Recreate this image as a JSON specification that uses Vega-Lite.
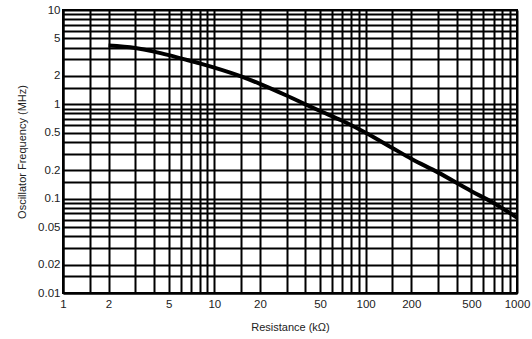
{
  "$schema": "https://vega.github.io/schema/vega-lite/v6.json",
  "autosize": {"type": "none"},
  "padding": {"left": 63, "top": 10, "right": 15, "bottom": 46},
  "width": 454,
  "height": 283,
  "background": "white",
  "config": {
    "view": {"stroke": "black", "strokeWidth": 2},
    "font": "Liberation Sans",
    "axis": {
      "gridColor": "black",
      "gridWidth": 2,
      "gridOpacity": 1,
      "domainColor": "black",
      "domainWidth": 2,
      "ticks": false,
      "labelFont": "Liberation Sans",
      "labelFontSize": 11.5,
      "labelColor": "#222",
      "titleFont": "Liberation Sans",
      "titleFontSize": 11,
      "titleFontWeight": "normal",
      "titleColor": "#222"
    }
  },
  "data": {
    "values": [
      {"r": 2, "f": 4.2},
      {"r": 3, "f": 3.95},
      {"r": 4, "f": 3.62},
      {"r": 5, "f": 3.32},
      {"r": 6, "f": 3.07},
      {"r": 8, "f": 2.72},
      {"r": 10, "f": 2.45},
      {"r": 15, "f": 1.98},
      {"r": 20, "f": 1.65},
      {"r": 30, "f": 1.24},
      {"r": 40, "f": 1.0},
      {"r": 50, "f": 0.85},
      {"r": 70, "f": 0.67},
      {"r": 100, "f": 0.5},
      {"r": 150, "f": 0.345},
      {"r": 200, "f": 0.265},
      {"r": 300, "f": 0.19},
      {"r": 500, "f": 0.12},
      {"r": 700, "f": 0.09},
      {"r": 1000, "f": 0.063}
    ]
  },
  "mark": {"type": "line", "color": "black", "strokeWidth": 4, "interpolate": "monotone", "clip": true},
  "encoding": {
    "x": {
      "field": "r",
      "type": "quantitative",
      "scale": {"type": "log", "domain": [1, 1000], "nice": false},
      "axis": {
        "title": "Resistance (kΩ)",
        "titlePadding": 12,
        "labelPadding": 5,
        "labelFlush": false,
        "values": [1, 1.5, 2, 3, 4, 5, 6, 7, 8, 9, 10, 15, 20, 30, 40, 50, 60, 70, 80, 90, 100, 150, 200, 300, 400, 500, 600, 700, 800, 900, 1000],
        "labelExpr": "indexof([1,2,5,10,20,50,100,200,500,1000], datum.value) >= 0 ? '' + datum.value : ''"
      }
    },
    "y": {
      "field": "f",
      "type": "quantitative",
      "scale": {"type": "log", "domain": [0.01, 10], "nice": false},
      "axis": {
        "title": "Oscillator Frequency (MHz)",
        "titlePadding": 10,
        "labelPadding": 3,
        "labelFlush": false,
        "values": [0.01, 0.015, 0.02, 0.03, 0.04, 0.05, 0.06, 0.07, 0.08, 0.09, 0.1, 0.15, 0.2, 0.3, 0.4, 0.5, 0.6, 0.7, 0.8, 0.9, 1, 1.5, 2, 3, 4, 5, 6, 7, 8, 9, 10],
        "labelExpr": "indexof([0.01,0.02,0.05,0.1,0.2,0.5,1,2,5,10], datum.value) >= 0 ? '' + datum.value : ''"
      }
    }
  }
}
